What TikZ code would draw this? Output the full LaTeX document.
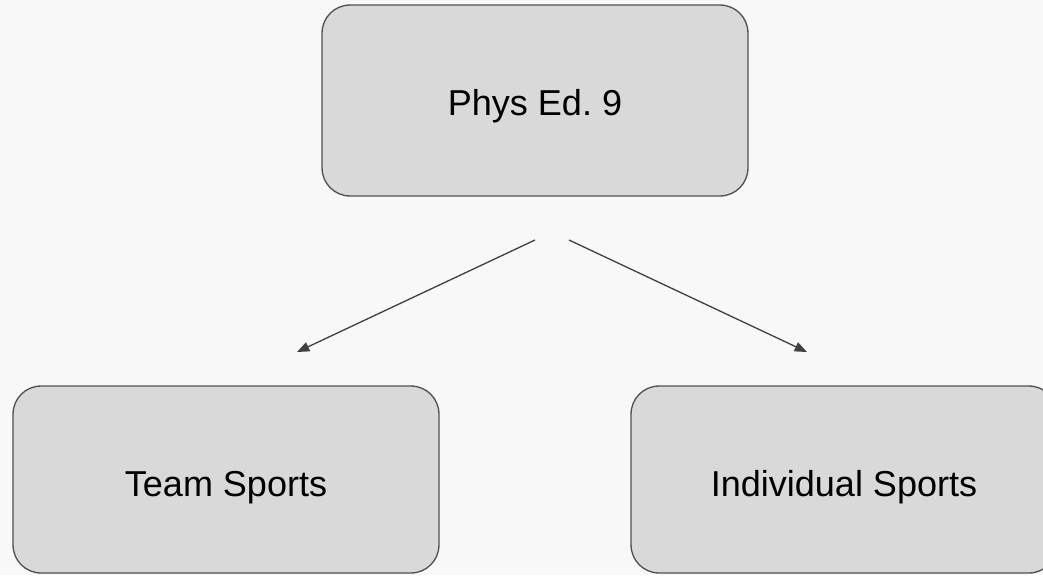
\documentclass[tikz,border=0pt]{standalone}
\usepackage{fontspec}
\setmainfont{Liberation Sans}
\usetikzlibrary{arrows.meta}
\definecolor{bgcol}{HTML}{F8F8F8}
\definecolor{boxfill}{HTML}{D9D9D9}
\definecolor{boxline}{HTML}{505050}
\definecolor{arrowcol}{HTML}{404040}
\frenchspacing
\begin{document}
\begin{tikzpicture}[x=0.02cm,y=-0.02cm,
  box/.style={draw=boxline,fill=boxfill,line width=0.75pt,rounded corners=0.56cm,
    minimum width=8.52cm,inner sep=0pt,font=\fontsize{20.5}{24}\selectfont,text=black,
    text height=0.676cm,text depth=0cm},
  conn/.style={draw=arrowcol,line width=0.75pt,-{Triangle[length=7pt,width=5.5pt]}}]
\fill[bgcol] (0,0) rectangle (1043,575);
\useasboundingbox (0,0) rectangle (1043,575);
\clip (0,0) rectangle (1043,575);
\node[box,minimum height=3.82cm,text height=0.596cm] (top) at (535,100.5) {Phys Ed. 9};
\node[box,minimum height=3.74cm] (team) at (226,479.5) {Team Sports};
\node[box,minimum height=3.74cm] (indiv) at (844,479.5) {Individual Sports};
\coordinate (ls) at (535,240);
\coordinate (le) at (297,352);
\coordinate (rs) at (569,240);
\coordinate (re) at (807,352);
\draw[conn] (ls) -- (le);
\draw[conn] (rs) -- (re);
\end{tikzpicture}
\end{document}
